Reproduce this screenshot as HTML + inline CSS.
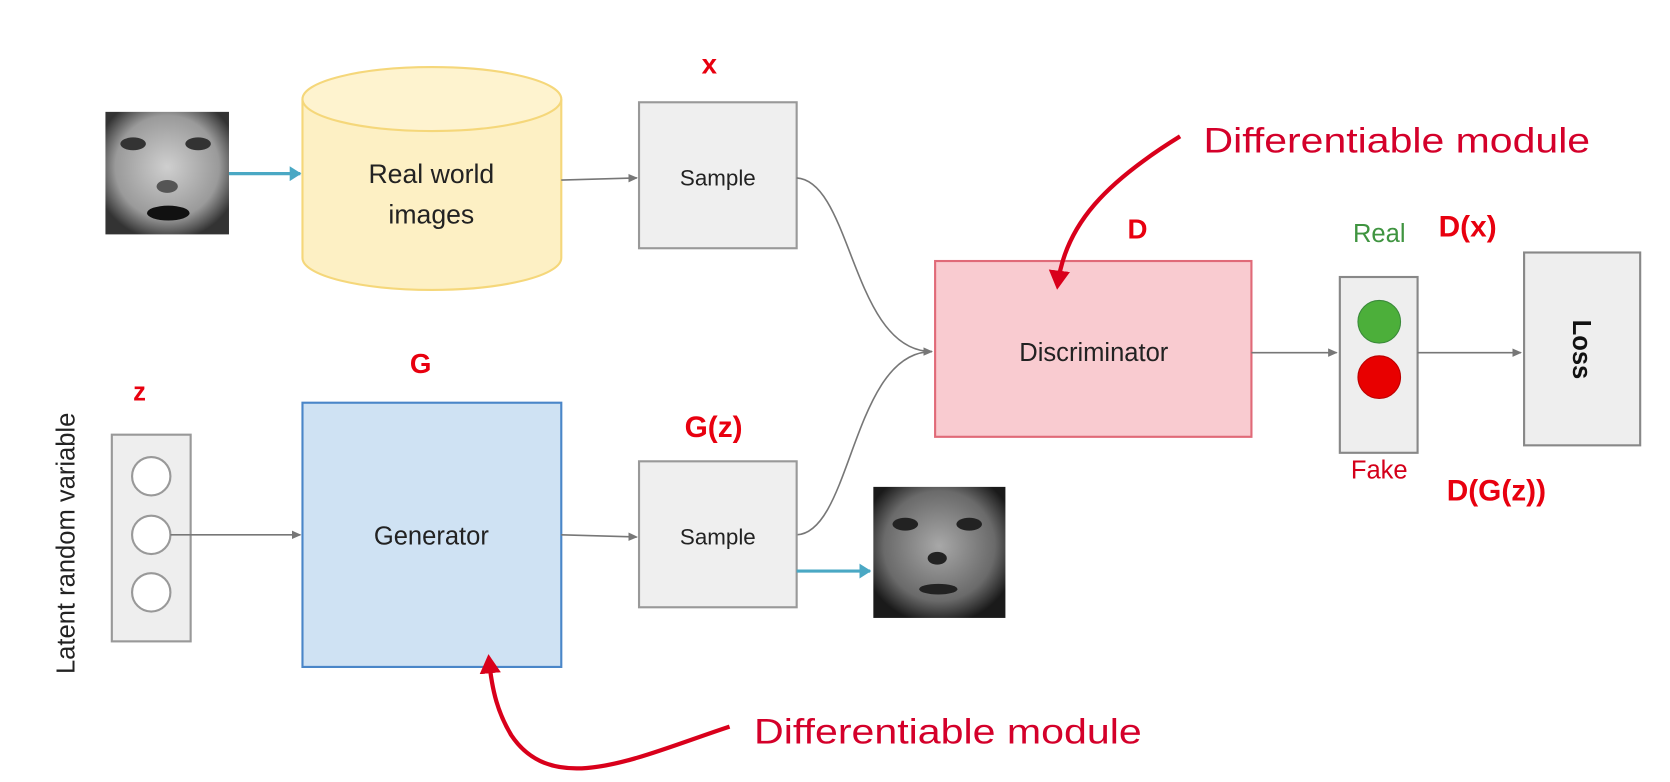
<!DOCTYPE html>
<html><head><style>html,body{margin:0;padding:0;background:#fff;width:1670px;height:782px;overflow:hidden}</style></head>
<body>
<svg width="1670" height="782" viewBox="0 0 1568 734" preserveAspectRatio="none" xmlns="http://www.w3.org/2000/svg" font-family="Liberation Sans, DejaVu Sans, sans-serif">
<defs>
<marker id="ga" markerWidth="10" markerHeight="10" refX="8" refY="5" orient="auto" markerUnits="userSpaceOnUse"><path d="M0,1 L9,5 L0,9 z" fill="#777"/></marker>
<marker id="ba" markerWidth="14" markerHeight="14" refX="10" refY="7" orient="auto" markerUnits="userSpaceOnUse"><path d="M0,0 L11,7 L0,14 z" fill="#4aa8c4"/></marker>
<marker id="ra" markerWidth="26" markerHeight="26" refX="14" refY="13" orient="auto" markerUnits="userSpaceOnUse"><path d="M0,3 L18,13 L0,23 z" fill="#d9001b"/></marker>
<radialGradient id="fg" cx="50%" cy="45%" r="60%"><stop offset="0" stop-color="#cfcfcf"/><stop offset="0.7" stop-color="#9a9a9a"/><stop offset="1" stop-color="#333"/></radialGradient>
<radialGradient id="fg2" cx="50%" cy="45%" r="60%"><stop offset="0" stop-color="#a8a8a8"/><stop offset="0.7" stop-color="#6a6a6a"/><stop offset="1" stop-color="#1a1a1a"/></radialGradient>
</defs>

<rect x="99" y="105" width="116" height="115" fill="url(#fg)"/>
<ellipse cx="125" cy="135" rx="12" ry="6" fill="#333"/>
<ellipse cx="186" cy="135" rx="12" ry="6" fill="#333"/>
<ellipse cx="157" cy="175" rx="10" ry="6" fill="#555"/>
<ellipse cx="158" cy="200" rx="20" ry="7" fill="#111"/>
<line x1="215" y1="163" x2="282" y2="163" stroke="#4aa8c4" stroke-width="3" marker-end="url(#ba)"/>

<path d="M284,93 L284,242 A121,30 0 0 0 527,242 L527,93" fill="#fdf0c4" stroke="#f5d77a" stroke-width="2"/>
<ellipse cx="405.5" cy="93" rx="121.5" ry="30" fill="#fef3cf" stroke="#f5d77a" stroke-width="2"/>
<text x="405" y="172" font-size="25" text-anchor="middle" fill="#222">Real world</text>
<text x="405" y="210" font-size="25" text-anchor="middle" fill="#222">images</text>
<line x1="527" y1="169" x2="598" y2="167" stroke="#777" stroke-width="1.5" marker-end="url(#ga)"/>

<text x="666" y="69" font-size="26" font-weight="bold" text-anchor="middle" fill="#e8000f">x</text>
<rect x="600" y="96" width="148" height="137" fill="#efefef" stroke="#999" stroke-width="2"/>
<text x="674" y="174" font-size="21" text-anchor="middle" fill="#222">Sample</text>

<path d="M748,167 C800,170 800,330 875,330" fill="none" stroke="#777" stroke-width="1.5" marker-end="url(#ga)"/>
<path d="M748,502 C800,500 800,330 875,330" fill="none" stroke="#777" stroke-width="1.5"/>

<text x="1068" y="224" font-size="26" font-weight="bold" text-anchor="middle" fill="#e8000f">D</text>
<rect x="878" y="245" width="297" height="165" fill="#f9cbd0" stroke="#e06a78" stroke-width="2"/>
<text x="1027" y="339" font-size="24" text-anchor="middle" fill="#222">Discriminator</text>
<line x1="1175" y1="331" x2="1255" y2="331" stroke="#777" stroke-width="1.5" marker-end="url(#ga)"/>

<text x="1295" y="227" font-size="24" text-anchor="middle" fill="#3f9440">Real</text>
<text x="1378" y="222" font-size="28" font-weight="bold" text-anchor="middle" fill="#e8000f">D(x)</text>
<rect x="1258" y="260" width="73" height="165" fill="#eee" stroke="#888" stroke-width="2"/>
<circle cx="1295" cy="302" r="20" fill="#4caf3a" stroke="#3a8a3a" stroke-width="1"/>
<circle cx="1295" cy="354" r="20" fill="#e80000" stroke="#b00" stroke-width="1"/>
<text x="1295" y="449" font-size="24" text-anchor="middle" fill="#d4001a">Fake</text>
<text x="1405" y="470" font-size="28" font-weight="bold" text-anchor="middle" fill="#e8000f">D(G(z))</text>
<line x1="1331" y1="331" x2="1428" y2="331" stroke="#777" stroke-width="1.5" marker-end="url(#ga)"/>

<rect x="1431" y="237" width="109" height="181" fill="#eee" stroke="#888" stroke-width="2"/>
<text x="0" y="0" font-size="24" font-weight="bold" text-anchor="middle" fill="#111" transform="translate(1477,328) rotate(90)">Loss</text>

<text x="1130" y="143" font-size="33" fill="#d4002a" textLength="363" lengthAdjust="spacingAndGlyphs">Differentiable module</text>
<path d="M1108,128 C1040,170 1000,210 993,268" fill="none" stroke="#d9001b" stroke-width="4" marker-end="url(#ra)"/>

<text x="0" y="0" font-size="24" text-anchor="middle" fill="#222" transform="translate(70,510) rotate(-90)">Latent random variable</text>
<text x="131" y="376" font-size="24" font-weight="bold" text-anchor="middle" fill="#e8000f">z</text>
<rect x="105" y="408" width="74" height="194" fill="#eee" stroke="#999" stroke-width="2"/>
<circle cx="142" cy="447" r="18" fill="#fff" stroke="#999" stroke-width="2"/>
<circle cx="142" cy="502" r="18" fill="#fff" stroke="#999" stroke-width="2"/>
<circle cx="142" cy="556" r="18" fill="#fff" stroke="#999" stroke-width="2"/>
<line x1="160" y1="502" x2="282" y2="502" stroke="#777" stroke-width="1.5" marker-end="url(#ga)"/>

<text x="395" y="350" font-size="26" font-weight="bold" text-anchor="middle" fill="#e8000f">G</text>
<rect x="284" y="378" width="243" height="248" fill="#cfe2f3" stroke="#4a86c8" stroke-width="2"/>
<text x="405" y="511" font-size="24" text-anchor="middle" fill="#222">Generator</text>
<line x1="527" y1="502" x2="598" y2="504" stroke="#777" stroke-width="1.5" marker-end="url(#ga)"/>

<text x="670" y="410" font-size="28" font-weight="bold" text-anchor="middle" fill="#e8000f">G(z)</text>
<rect x="600" y="433" width="148" height="137" fill="#efefef" stroke="#999" stroke-width="2"/>
<text x="674" y="511" font-size="21" text-anchor="middle" fill="#222">Sample</text>
<line x1="748" y1="536" x2="817" y2="536" stroke="#4aa8c4" stroke-width="3" marker-end="url(#ba)"/>

<rect x="820" y="457" width="124" height="123" fill="url(#fg2)"/>
<ellipse cx="850" cy="492" rx="12" ry="6" fill="#222"/>
<ellipse cx="910" cy="492" rx="12" ry="6" fill="#222"/>
<ellipse cx="880" cy="524" rx="9" ry="6" fill="#222"/>
<ellipse cx="881" cy="553" rx="18" ry="5" fill="#222"/>

<text x="708" y="698" font-size="33" fill="#d4002a" textLength="364" lengthAdjust="spacingAndGlyphs">Differentiable module</text>
<path d="M685,682 C600,710 520,750 480,690 C468,670 462,650 459,618" fill="none" stroke="#d9001b" stroke-width="4" marker-end="url(#ra)"/>
</svg>
</body></html>
